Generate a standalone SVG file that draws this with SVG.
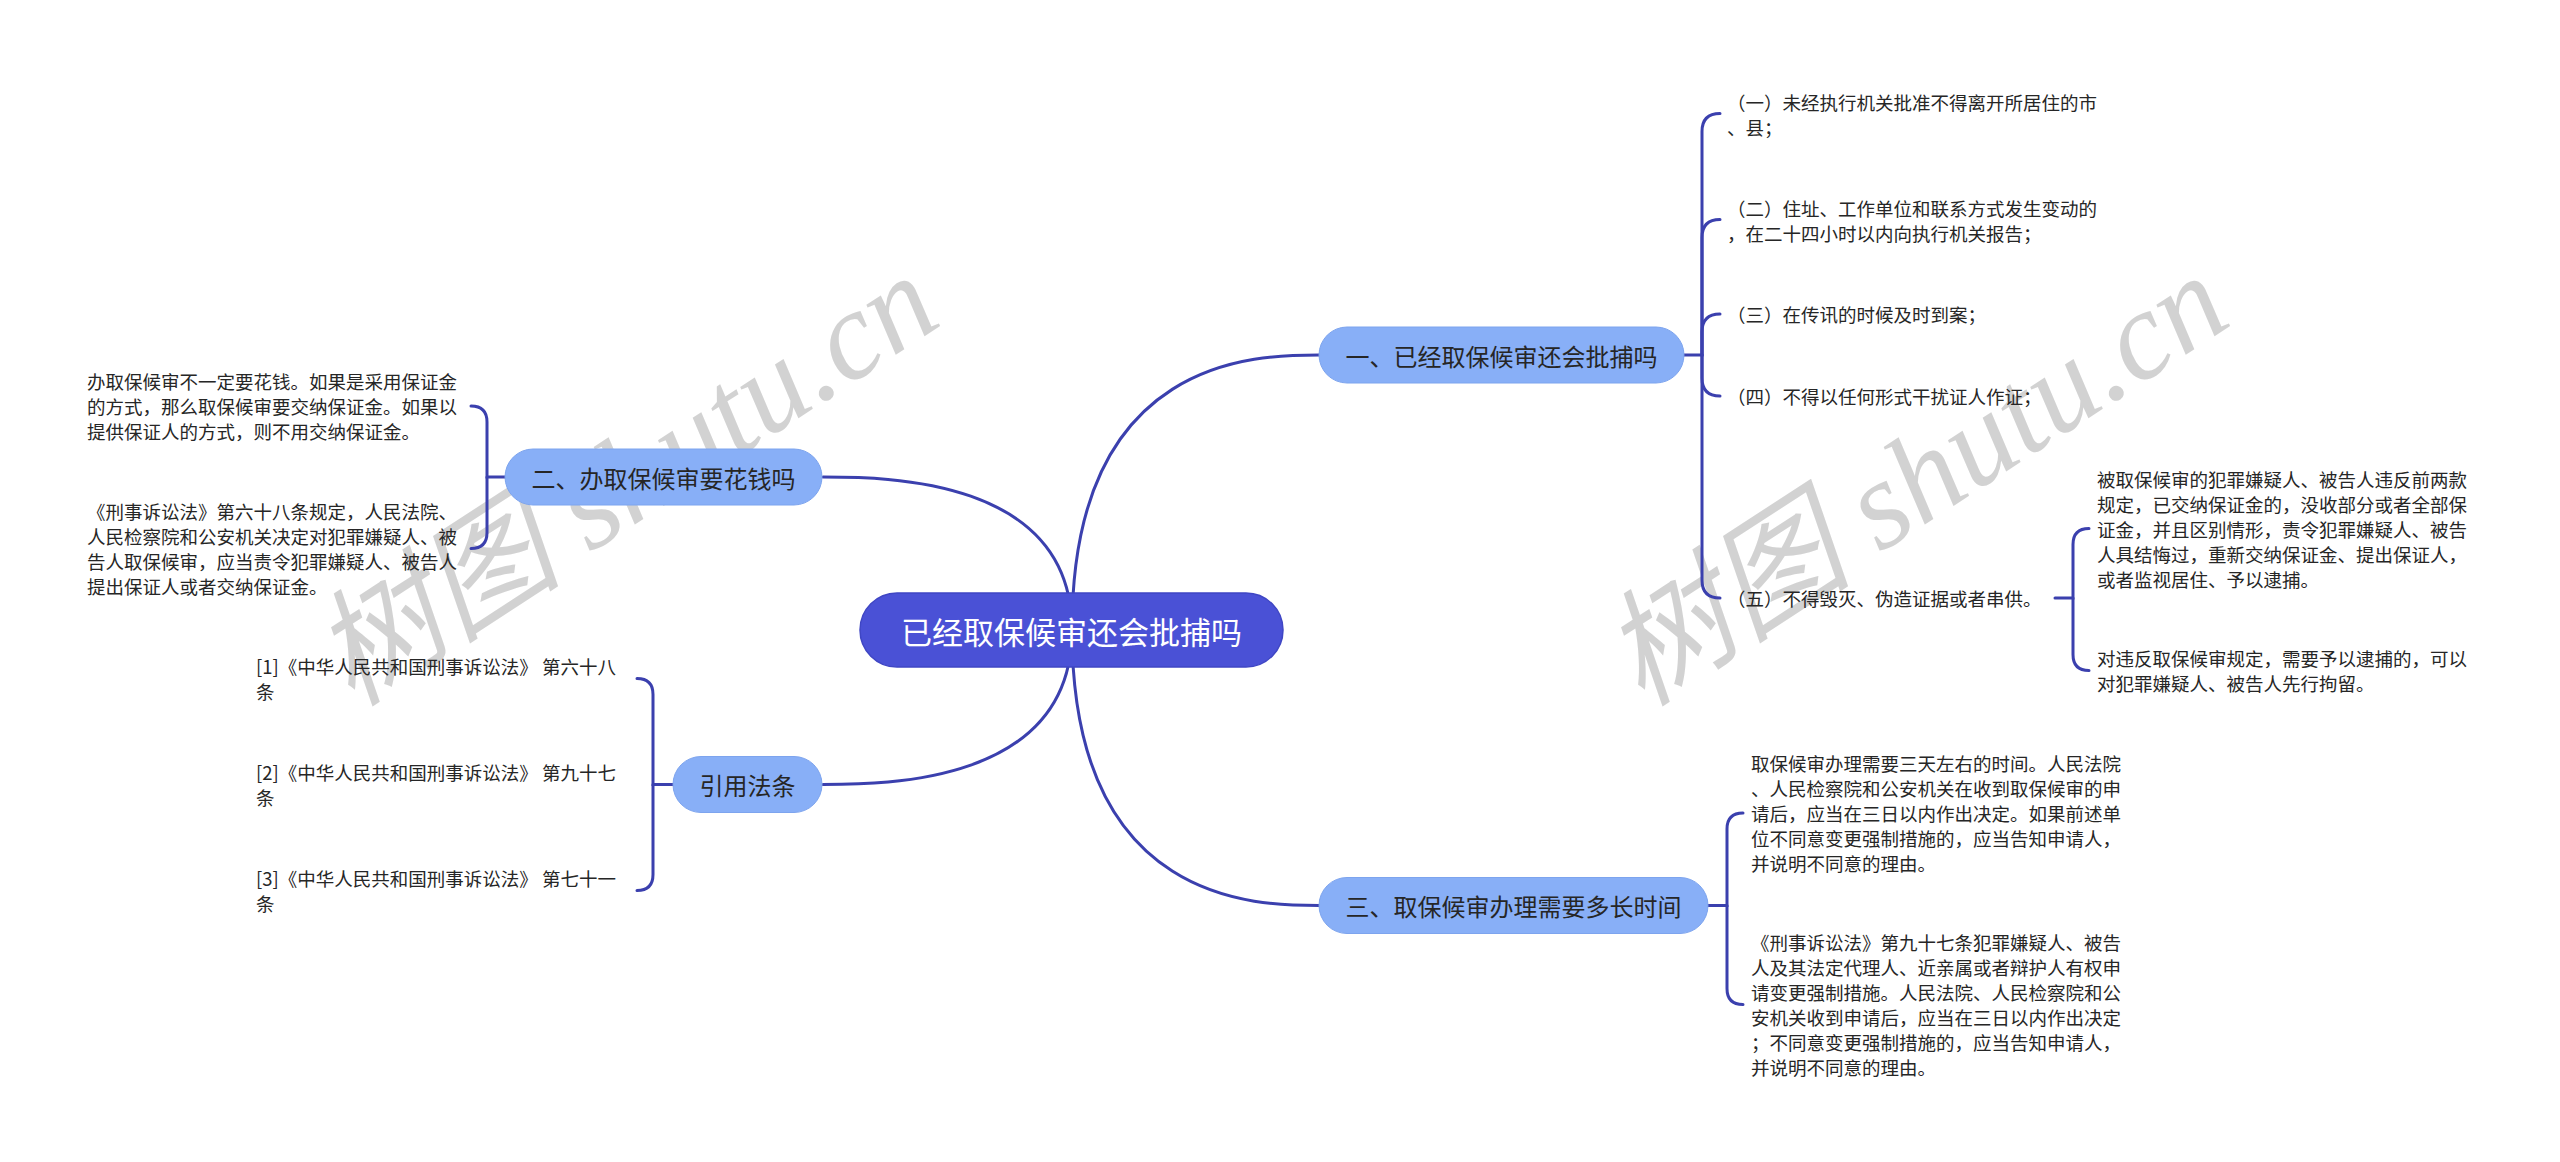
<svg xmlns="http://www.w3.org/2000/svg" width="2560" height="1162" viewBox="0 0 2560 1162">
<defs>
<style>
.wm{font-family:"Liberation Serif","Noto Sans CJK SC",serif;font-style:italic;font-size:126px;fill:#c8c8c8;opacity:0.8}
.conn{fill:none;stroke:#3b40ae;stroke-width:3;stroke-linecap:round}
.root rect{fill:#4a51d6;stroke:#3f46c4;stroke-width:1.5}
.root text{font-family:"Noto Sans CJK SC","Liberation Sans",sans-serif;font-size:31px;fill:#ffffff;text-anchor:middle;dominant-baseline:central}
.l1 rect{fill:#88aff7;stroke:#7da4ee;stroke-width:1}
.l1 text{font-family:"Noto Sans CJK SC","Liberation Sans",sans-serif;font-size:24px;fill:#262626;text-anchor:middle;dominant-baseline:central}
.leaf text{font-family:"Noto Sans CJK SC","Liberation Sans",sans-serif;font-size:18.5px;fill:#262626;dominant-baseline:central}
</style>
</defs>
<rect x="0" y="0" width="2560" height="1162" fill="#ffffff"/>

<g id="watermarks">
<text class="wm" transform="translate(352,708) rotate(-33)">树图 shutu.cn</text>
<text class="wm" transform="translate(1642,708) rotate(-33)">树图 shutu.cn</text>
</g>

<g id="connectors">
<path class="conn" d="M1072 630 C1072 355 1257 355 1319 355"/>
<path class="conn" d="M1072 630 C1072 905.5 1257 905.5 1319 905.5"/>
<path class="conn" d="M1072 630 C1072 477 885 477 823 477"/>
<path class="conn" d="M1072 630 C1072 784.5 885 784.5 823 784.5"/>

<path class="conn" d="M1684 355 H1702 V131.5 Q1702 113.5 1720 113.5"/>
<path class="conn" d="M1702 355 V237.5 Q1702 219.5 1720 219.5"/>
<path class="conn" d="M1702 355 V332 Q1702 314 1720 314"/>
<path class="conn" d="M1702 355 V378 Q1702 396 1720 396"/>
<path class="conn" d="M1702 355 V580 Q1702 598 1720 598"/>

<path class="conn" d="M2055 598 H2073 V544.5 Q2073 528.5 2089 528.5"/>
<path class="conn" d="M2073 598 V654.5 Q2073 670.5 2089 670.5"/>

<path class="conn" d="M1708 905.5 H1727 V829 Q1727 813 1743 813"/>
<path class="conn" d="M1727 905.5 V988.5 Q1727 1004.5 1743 1004.5"/>

<path class="conn" d="M505 477 H487 V422 Q487 406 471 406"/>
<path class="conn" d="M487 477 V532.5 Q487 548.5 471 548.5"/>

<path class="conn" d="M673 784.5 H653 V694.5 Q653 678.5 637 678.5"/>
<path class="conn" d="M653 784.5 V874.5 Q653 890.5 637 890.5"/>
</g>

<g id="root" class="root">
<rect x="860" y="593" width="423" height="74" rx="37"/>
<text x="1071.5" y="630">已经取保候审还会批捕吗</text>
</g>

<g id="n1" class="l1">
<rect x="1319" y="327" width="365" height="56" rx="28"/>
<text x="1501.5" y="355">一、已经取保候审还会批捕吗</text>
</g>
<g id="n2" class="l1">
<rect x="505" y="449" width="317" height="56" rx="28"/>
<text x="663.5" y="477">二、办取保候审要花钱吗</text>
</g>
<g id="n3" class="l1">
<rect x="1319" y="877.5" width="389" height="56" rx="28"/>
<text x="1513.5" y="905.5">三、取保候审办理需要多长时间</text>
</g>
<g id="n4" class="l1">
<rect x="673" y="756.5" width="149" height="56" rx="28"/>
<text x="747.5" y="784.5">引用法条</text>
</g>

<g id="n1c1" class="leaf"><text><tspan x="1727" y="101.5">（一）未经执行机关批准不得离开所居住的市</tspan><tspan x="1727" y="126.5">、县；</tspan></text></g>
<g id="n1c2" class="leaf"><text><tspan x="1727" y="207.5">（二）住址、工作单位和联系方式发生变动的</tspan><tspan x="1727" y="232.5">，在二十四小时以内向执行机关报告；</tspan></text></g>
<g id="n1c3" class="leaf"><text x="1727" y="314">（三）在传讯的时候及时到案；</text></g>
<g id="n1c4" class="leaf"><text x="1727" y="396">（四）不得以任何形式干扰证人作证；</text></g>
<g id="n1c5" class="leaf"><text x="1727" y="598">（五）不得毁灭、伪造证据或者串供。</text></g>

<g id="n1c5a" class="leaf"><text><tspan x="2097" y="478.5">被取保候审的犯罪嫌疑人、被告人违反前两款</tspan><tspan x="2097" y="503.5">规定，已交纳保证金的，没收部分或者全部保</tspan><tspan x="2097" y="528.5">证金，并且区别情形，责令犯罪嫌疑人、被告</tspan><tspan x="2097" y="553.5">人具结悔过，重新交纳保证金、提出保证人，</tspan><tspan x="2097" y="578.5">或者监视居住、予以逮捕。</tspan></text></g>
<g id="n1c5b" class="leaf"><text><tspan x="2097" y="658">对违反取保候审规定，需要予以逮捕的，可以</tspan><tspan x="2097" y="683">对犯罪嫌疑人、被告人先行拘留。</tspan></text></g>

<g id="n3c1" class="leaf"><text><tspan x="1751" y="763">取保候审办理需要三天左右的时间。人民法院</tspan><tspan x="1751" y="788">、人民检察院和公安机关在收到取保候审的申</tspan><tspan x="1751" y="813">请后，应当在三日以内作出决定。如果前述单</tspan><tspan x="1751" y="838">位不同意变更强制措施的，应当告知申请人，</tspan><tspan x="1751" y="863">并说明不同意的理由。</tspan></text></g>
<g id="n3c2" class="leaf"><text><tspan x="1751" y="942">《刑事诉讼法》第九十七条犯罪嫌疑人、被告</tspan><tspan x="1751" y="967">人及其法定代理人、近亲属或者辩护人有权申</tspan><tspan x="1751" y="992">请变更强制措施。人民法院、人民检察院和公</tspan><tspan x="1751" y="1017">安机关收到申请后，应当在三日以内作出决定</tspan><tspan x="1751" y="1042">；不同意变更强制措施的，应当告知申请人，</tspan><tspan x="1751" y="1067">并说明不同意的理由。</tspan></text></g>

<g id="n2c1" class="leaf"><text><tspan x="87" y="381">办取保候审不一定要花钱。如果是采用保证金</tspan><tspan x="87" y="406">的方式，那么取保候审要交纳保证金。如果以</tspan><tspan x="87" y="431">提供保证人的方式，则不用交纳保证金。</tspan></text></g>
<g id="n2c2" class="leaf"><text><tspan x="87" y="511">《刑事诉讼法》第六十八条规定，人民法院、</tspan><tspan x="87" y="536">人民检察院和公安机关决定对犯罪嫌疑人、被</tspan><tspan x="87" y="561">告人取保候审，应当责令犯罪嫌疑人、被告人</tspan><tspan x="87" y="586">提出保证人或者交纳保证金。</tspan></text></g>

<g id="n4c1" class="leaf"><text><tspan x="256" y="666">[1]《中华人民共和国刑事诉讼法》 第六十八</tspan><tspan x="256" y="691">条</tspan></text></g>
<g id="n4c2" class="leaf"><text><tspan x="256" y="772">[2]《中华人民共和国刑事诉讼法》 第九十七</tspan><tspan x="256" y="797">条</tspan></text></g>
<g id="n4c3" class="leaf"><text><tspan x="256" y="878">[3]《中华人民共和国刑事诉讼法》 第七十一</tspan><tspan x="256" y="903">条</tspan></text></g>
</svg>
